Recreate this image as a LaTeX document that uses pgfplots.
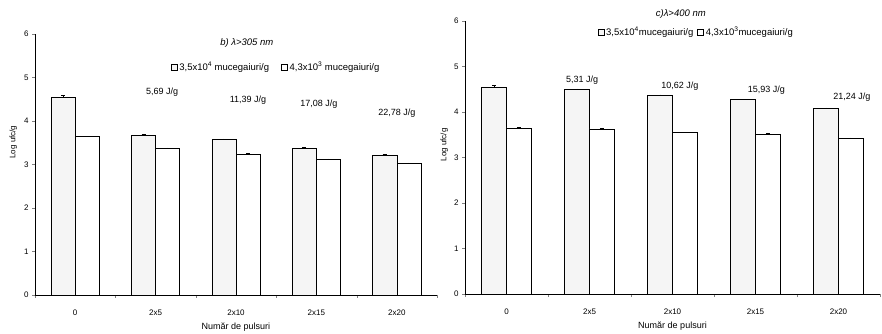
\documentclass[border=0pt]{standalone}
\usepackage{pgfplots}
\pgfplotsset{compat=1.18}
\usepackage{fontspec}
\setmainfont{Liberation Sans}
\tikzset{
 elab/.style={font=\fontsize{9}{10}\selectfont},
 ttl/.style={font=\fontsize{9.5}{11}\selectfont\itshape},
}
\begin{document}
\begin{tikzpicture}[font=\fontsize{8}{9.5}\selectfont]
\useasboundingbox (0,0) rectangle (882pt,334pt);
\pgfplotsset{
 mystyle/.style={
  scale only axis, ybar, bar width=0.3, clip=false,
  xmin=-0.5, xmax=4.5, ymin=0, ymax=6,
  ytick={0,...,6},
  xtick={0,...,4}, xticklabels={0,2x5,2x10,2x15,2x20},
  minor xtick={-0.5,0.5,1.5,2.5,3.5,4.5},
  major x tick style={draw=none},
  tick align=outside, tick pos=left,
  minor tick length=3pt, major tick length=3pt,
  axis x line*=bottom, axis y line*=left,
  axis line style={-, line width=0.6pt},
  tick label style={font=\fontsize{8}{9.5}\selectfont},
  xticklabel style={yshift=-8pt},
  ylabel={Log ufc/g}, xlabel={Număr de pulsuri},
  xlabel style={font=\fontsize{9}{10}\selectfont, yshift=-1pt},
  ylabel style={font=\fontsize{8}{9.5}\selectfont},
  /pgf/number format/assume math mode=true,
  legend columns=2,
  legend style={draw=none, fill=none, anchor=west, font=\fontsize{9.5}{11}\selectfont},
  legend image code/.code={\draw[#1, draw=black, line width=0.5pt] (0pt,-3pt) rectangle (6pt,3pt);},
  error bars/error bar style={black, line width=0.5pt},
  error bars/error mark options={rotate=90, mark size=2pt, black},
 },
 dotbar/.style={fill=black!4, draw=black, line width=0.6pt, bar shift=-0.15},
 whitebar/.style={fill=white, draw=black, line width=0.6pt, bar shift=0.15},
}
% ---------------- left panel ----------------
\begin{axis}[mystyle, at={(35pt,39pt)}, anchor=south west, width=402pt, height=261pt,
  ylabel style={at={(ticklabel cs:0.586,0pt)}},
  legend style={at={(0.33,0.874)}, /tikz/every even column/.append style={column sep=10pt}}]
\addplot[dotbar, error bars/.cd, y dir=plus, y explicit] coordinates {
 (0,4.55) +- (0,0.04) (1,3.67) +- (0,0.02) (2,3.58) +- (0,0.01) (3,3.38) +- (0,0.01) (4,3.22) +- (0,0.02)};
\addlegendentry{3,5x10\textsuperscript{4} mucegaiuri/g}
\addplot[whitebar, error bars/.cd, y dir=plus, y explicit] coordinates {
 (0,3.64) +- (0,0.01) (1,3.37) +- (0,0.01) (2,3.24) +- (0,0.01) (3,3.12) +- (0,0.01) (4,3.03) +- (0,0.01)};
\addlegendentry{4,3x10\textsuperscript{3} mucegaiuri/g}
\node[ttl] at (rel axis cs:0.527,0.966) {b) λ>305 nm};
\node[elab] at (axis cs:1.08,4.67) {5,69 J/g};
\node[elab] at (axis cs:2.15,4.48) {11,39 J/g};
\node[elab] at (axis cs:3.03,4.39) {17,08 J/g};
\node[elab] at (axis cs:4.00,4.18) {22,78 J/g};
\end{axis}
% ---------------- right panel ----------------
\begin{axis}[mystyle, at={(465pt,40pt)}, anchor=south west, width=415pt, height=273pt,
  ylabel style={at={(ticklabel cs:0.546,-1pt)}},
  legend style={at={(0.312,0.96)}, /tikz/every even column/.append style={column sep=2pt}}]
\addplot[dotbar, error bars/.cd, y dir=plus, y explicit] coordinates {
 (0,4.55) +- (0,0.03) (1,4.50) +- (0,0.01) (2,4.37) +- (0,0.01) (3,4.27) +- (0,0.01) (4,4.08) +- (0,0.01)};
\addlegendentry{3,5x10\textsuperscript{4}mucegaiuri/g}
\addplot[whitebar, error bars/.cd, y dir=plus, y explicit] coordinates {
 (0,3.65) +- (0,0.01) (1,3.63) +- (0,0.01) (2,3.55) +- (0,0.01) (3,3.51) +- (0,0.03) (4,3.42) +- (0,0.01)};
\addlegendentry{4,3x10\textsuperscript{3}mucegaiuri/g}
\node[ttl] at (rel axis cs:0.52,1.025) {c)λ>400 nm};
\node[elab] at (axis cs:0.91,4.70) {5,31 J/g};
\node[elab] at (axis cs:2.09,4.57) {10,62 J/g};
\node[elab] at (axis cs:3.13,4.48) {15,93 J/g};
\node[elab] at (axis cs:4.16,4.33) {21,24 J/g};
\end{axis}
\end{tikzpicture}
\end{document}
